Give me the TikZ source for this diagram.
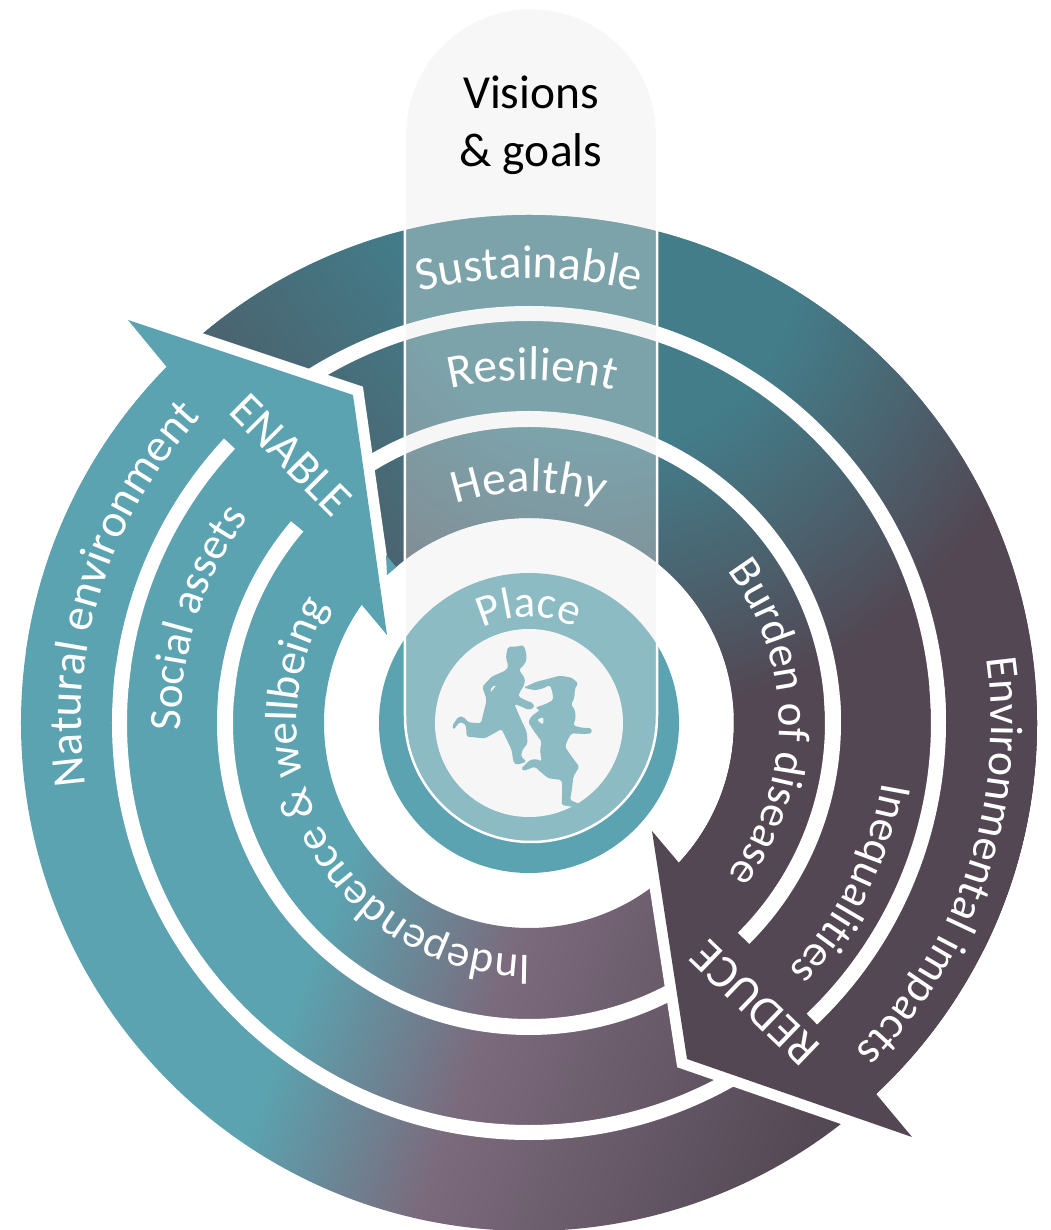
\documentclass[tikz,border=0pt]{standalone}
\usepackage{fontspec}
\setmainfont{Carlito}
\usepackage{tikz}
\usetikzlibrary{decorations.text}

\definecolor{enablecol}{HTML}{5BA3B0}
\definecolor{reducecol}{HTML}{524753}
\definecolor{mauvecol}{HTML}{7B6A7C}
\definecolor{tealdark}{HTML}{437D8A}
\definecolor{slatecol}{HTML}{4A6470}
\definecolor{pillcol}{HTML}{E8E8E8}

\pgfdeclarehorizontalshading{lowershade}{100bp}{color(0bp)=(enablecol); color(45.54bp)=(enablecol); color(52.32bp)=(mauvecol); color(65bp)=(reducecol); color(100bp)=(reducecol)}
\pgfdeclarehorizontalshading{leftshade}{100bp}{color(0bp)=(tealdark); color(42.86bp)=(tealdark); color(50.36bp)=(slatecol); color(100bp)=(slatecol)}
\pgfdeclareradialshading{uppershade}{\pgfpoint{0bp}{0bp}}{color(0bp)=(tealdark); color(7.14bp)=(tealdark); color(11.96bp)=(slatecol); color(16.8bp)=(reducecol); color(50bp)=(reducecol)}

\newcommand\topfont{\fontsize{27}{33}\selectfont}
\newcommand\placefont{\fontsize{25.5}{31}\selectfont}
\newcommand\sidefont{\fontsize{25.6}{31}\selectfont}
\newcommand\widefont{\fontsize{26.6}{31}\selectfont}
% #1 font, #2 start angle, #3 end angle, #4 radius, #5 text
\newcommand\bandlabel[5]{\path[decorate, decoration={text along path, text align=center, text color=white, text={|#1|#5}}] (#2:#4) arc[start angle=#2, end angle=#3, radius=#4];}

\begin{document}
\begin{tikzpicture}[
  x = 0.2mm, y = 0.2mm,
  gapline/.style = {white, line width = 3mm},
  edgeline/.style = {white, line width = 4.4mm, miter limit = 20},
  headlabel/.style = {white, font = \topfont, inner sep = 0pt}
  ]
  \useasboundingbox (-529,-507) rectangle (522,723);

  \coordinate (tipa) at (-401,403);
  \coordinate (cornera) at (-176,328);
  \coordinate (tipb) at (-142,88);
  \coordinate (tipc) at (383,-414);
  \coordinate (cornerc) at (158,-336);
  \coordinate (tipd) at (123,-108);

  % rings
  \begin{scope}[even odd rule]
    \clip (0,0) circle[radius=508] (0,0) circle[radius=205];
    \begin{scope}[transform canvas={rotate=-20}]
      \shade[shading=lowershade] (-700,-700) rectangle (700,700);
    \end{scope}
    \begin{scope}[nonzero rule]
      \clip (-124,750) -- (-124,120) -- (0,0) -- (tipd) -- (cornerc) -- (tipc) -- (540,-414) -- (540,750) -- cycle;
      \shade[shading=uppershade] (-629,-227) rectangle (771,1173);
    \end{scope}
    \begin{scope}[nonzero rule]
      \clip (-124,750) -- (-124,120) -- (tipb) -- (cornera) -- (tipa) -- (-401,750) -- cycle;
      \begin{scope}[transform canvas={rotate=217.7}]
        \shade[shading=leftshade] (-700,-700) rectangle (700,700);
      \end{scope}
    \end{scope}
  \end{scope}
  \foreach \gapr/\gapw in {409.5/3mm, 304/3.2mm}
    \draw[gapline, line width=\gapw] (0,0) circle[radius=\gapr];

  % arrow heads
  \draw[edgeline] (tipa) -- (cornera) -- (tipb);
  \fill[enablecol] (tipa) -- (cornera) -- (tipb) -- (144.75:205) arc[start angle=144.75, end angle=172, radius=205]
    -- (172:508) arc[start angle=172, end angle=135.5, radius=508] -- cycle;
  \fill[enablecol] (-143,168) -- (-133,156) -- (-142,148) -- cycle;
  \draw[edgeline] (tipc) -- (cornerc) -- (tipd);
  \fill[reducecol] (tipc) -- (cornerc) -- (tipd) -- (-43:205) arc[start angle=-43, end angle=2, radius=205]
    -- (2:508) arc[start angle=2, end angle=-46.9, radius=508] -- cycle;
  \draw[gapline] (137:409.5) arc[start angle=137, end angle=175, radius=409.5];
  \draw[gapline, line width=3.2mm] (139.7:304) arc[start angle=139.7, end angle=175, radius=304];
  \draw[gapline] (-46.3:409.5) arc[start angle=-46.3, end angle=5, radius=409.5];
  \draw[gapline, line width=3.2mm] (-45.1:304) arc[start angle=-45.1, end angle=5, radius=304];

  % place
  \fill[enablecol] (0,0) circle[radius=150];
  \fill[white] (0,0) circle[radius=94];
  \begin{scope}[shift={(-84,88)}, xscale=0.3333, yscale=-0.3333]
    \fill[enablecol, even odd rule, rounded corners=1pt] (190,35) -- (215,35) -- (235,30) -- (243,50) -- (245,75) -- (235,92) -- (222,105) -- (240,130) -- (238,150) -- (225,170) -- (220,185) -- (240,195) -- (265,205) -- (268,218) -- (250,225) -- (230,215) -- (208,207) -- (222,240) -- (245,290) -- (248,325) -- (232,345) -- (228,365) -- (245,380) -- (215,390) -- (205,380) -- (200,345) -- (170,282) -- (120,310) -- (65,305) -- (63,270) -- (45,260) -- (25,285) -- (22,272) -- (40,245) -- (55,245) -- (70,262) -- (108,265) -- (125,195) -- (112,155) -- (140,125) -- (185,105) -- (190,90) -- (183,72) -- (185,50) -- cycle
      (135,175) -- (155,150) -- (140,155) -- cycle;
    \fill[enablecol, even odd rule, rounded corners=1pt] (235,158) -- (275,140) -- (315,130) -- (345,122) -- (380,128) -- (400,145) -- (390,160) -- (388,190) -- (378,208) -- (390,225) -- (392,250) -- (385,272) -- (410,278) -- (440,280) -- (440,295) -- (420,297) -- (380,295) -- (370,310) -- (360,335) -- (380,365) -- (403,395) -- (385,425) -- (380,470) -- (375,495) -- (410,510) -- (385,516) -- (350,510) -- (352,460) -- (350,435) -- (310,430) -- (280,405) -- (270,395) -- (235,408) -- (228,402) -- (255,375) -- (275,372) -- (290,380) -- (285,345) -- (290,320) -- (268,290) -- (250,262) -- (258,245) -- (285,225) -- (270,218) -- (300,208) -- (325,195) -- (322,170) -- (315,150) -- (295,160) -- (270,166) -- cycle
      (275,255) -- (295,245) -- (295,270) -- cycle;
  \end{scope}

  % pill
  \path[fill=pillcol, fill opacity=0.35, draw=white, line width=0.5mm] (-124,7) -- (-124,589) arc[start angle=180, end angle=0, radius=126]
    -- (128,7) arc[start angle=0, end angle=-180, radius=126] -- cycle;

  % labels
  \node[align=center, inner sep=0pt, font=\fontsize{27}{33}\selectfont] (visions) at (2,598) {Visions\\\& goals};
  \bandlabel{\topfont}{125}{55}{445}{Sustainable}
  \bandlabel{\topfont}{140}{39}{343}{Resilient}
  \bandlabel{\topfont}{159}{21}{231}{Healthy}
  \bandlabel{\placefont}{170}{10}{106}{Place}
  \bandlabel{\widefont}{197}{128}{448}{Natural environment}
  \bandlabel{\sidefont}{200}{125}{348}{Social assets}
  \bandlabel{\sidefont}{285}{135}{232}{Independence {\&} wellbeing}
  \bandlabel{\sidefont}{50}{-50}{250}{Burden of disease}
  \bandlabel{\sidefont}{5}{-58}{358}{Inequalities}
  \bandlabel{\fontsize{26}{31}\selectfont}{17}{-54}{462}{Environmental impacts}
  \node[headlabel, rotate=-45] (enable) at (-238,268) {ENABLE};
  \node[headlabel, rotate=136] (reduce) at (226,-280) {REDUCE};
\end{tikzpicture}
\end{document}
